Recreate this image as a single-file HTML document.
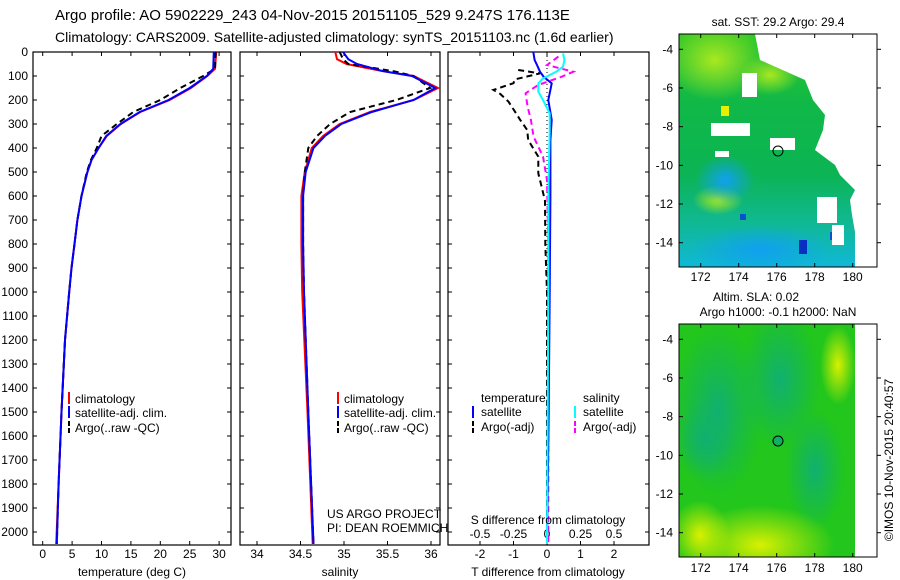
<!DOCTYPE html>
<html><head><meta charset="utf-8"><style>
html,body{margin:0;padding:0;background:#fff;}
svg{display:block;font-family:"Liberation Sans",sans-serif;}
text{fill:#000;}
</style></head><body>
<svg id="fig" width="900" height="580" viewBox="0 0 900 580" xmlns="http://www.w3.org/2000/svg">
<defs>
<clipPath id="c1"><rect x="33" y="52" width="198" height="493"/></clipPath>
<clipPath id="c2"><rect x="240" y="52" width="200" height="493"/></clipPath>
<clipPath id="c3"><rect x="448" y="52" width="201" height="493"/></clipPath>
<clipPath id="m1"><rect x="679" y="34" width="198" height="233"/></clipPath>
<clipPath id="m2"><rect x="679" y="324" width="176" height="233"/></clipPath>
<linearGradient id="g1" x1="0" y1="0" x2="0" y2="1">
<stop offset="0" stop-color="#30c828"/><stop offset="0.3" stop-color="#10b848"/><stop offset="0.6" stop-color="#0cb454"/><stop offset="0.8" stop-color="#10b890"/><stop offset="1" stop-color="#10b8d8"/></linearGradient>
<radialGradient id="yg1" cx="0.5" cy="0.5" r="0.5"><stop offset="0" stop-color="#a8e820"/><stop offset="1" stop-color="#a8e820" stop-opacity="0"/></radialGradient>
<radialGradient id="bl1" cx="0.5" cy="0.5" r="0.5"><stop offset="0" stop-color="#10a0f0"/><stop offset="1" stop-color="#10a0f0" stop-opacity="0"/></radialGradient>
<radialGradient id="tl2" cx="0.5" cy="0.5" r="0.5"><stop offset="0" stop-color="#10b070"/><stop offset="1" stop-color="#10b070" stop-opacity="0"/></radialGradient>
<radialGradient id="yl2" cx="0.5" cy="0.5" r="0.5"><stop offset="0" stop-color="#d8f000"/><stop offset="1" stop-color="#d8f000" stop-opacity="0"/></radialGradient>
</defs>

<text x="55" y="20" font-size="15">Argo profile: AO 5902229_243 04-Nov-2015 20151105_529 9.247S 176.113E</text>
<text x="55" y="42" font-size="14">Climatology: CARS2009. Satellite-adjusted climatology: synTS_20151103.nc (1.6d earlier)</text>

<g id="axes"></g>
<g id="series"></g>

<g font-size="12">
<line x1="69" y1="392" x2="69" y2="404" stroke="#f00" stroke-width="2"/><text x="75" y="403">climatology</text>
<line x1="69" y1="406" x2="69" y2="418" stroke="#00f" stroke-width="2"/><text x="75" y="417">satellite-adj. clim.</text>
<line x1="69" y1="421" x2="69" y2="433" stroke="#000" stroke-width="2" stroke-dasharray="5,2"/><text x="75" y="432">Argo(..raw -QC)</text>
</g>
<g font-size="12">
<line x1="338" y1="392" x2="338" y2="404" stroke="#f00" stroke-width="2"/><text x="344" y="403">climatology</text>
<line x1="338" y1="406" x2="338" y2="418" stroke="#00f" stroke-width="2"/><text x="344" y="417">satellite-adj. clim.</text>
<line x1="338" y1="421" x2="338" y2="433" stroke="#000" stroke-width="2" stroke-dasharray="5,2"/><text x="344" y="432">Argo(..raw -QC)</text>
</g>
<g font-size="12">
<text x="481" y="402">temperature</text><text x="583" y="402">salinity</text>
<line x1="473" y1="406" x2="473" y2="418" stroke="#00f" stroke-width="2"/><text x="481" y="416">satellite</text>
<line x1="575" y1="406" x2="575" y2="418" stroke="#0ff" stroke-width="2"/><text x="583" y="416">satellite</text>
<line x1="473" y1="421" x2="473" y2="433" stroke="#000" stroke-width="2" stroke-dasharray="5,2"/><text x="481" y="431">Argo(-adj)</text>
<line x1="575" y1="421" x2="575" y2="433" stroke="#f0f" stroke-width="2" stroke-dasharray="5,2"/><text x="583" y="431">Argo(-adj)</text>
</g>
<text x="327" y="518" font-size="12">US ARGO PROJECT</text>
<text x="327" y="532" font-size="12">PI: DEAN ROEMMICH</text>
<text x="548" y="524" font-size="12" text-anchor="middle">S difference from climatology</text>

<g>
<text x="778" y="26" font-size="12" text-anchor="middle">sat. SST: 29.2 Argo: 29.4</text>
<g clip-path="url(#m1)">
<rect x="679" y="34" width="198" height="233" fill="url(#g1)"/>
<ellipse cx="715" cy="60" rx="50" ry="40" fill="url(#yg1)"/>
<ellipse cx="770" cy="75" rx="30" ry="20" fill="url(#yg1)"/>
<ellipse cx="718" cy="200" rx="25" ry="15" fill="url(#yg1)"/>
<ellipse cx="725" cy="180" rx="30" ry="25" fill="url(#bl1)"/>
<ellipse cx="760" cy="250" rx="70" ry="25" fill="url(#bl1)"/>
<rect x="799" y="240" width="8" height="14" fill="#0830c0"/>
<rect x="830" y="232" width="10" height="8" fill="#0850d0"/>
<rect x="740" y="214" width="6" height="6" fill="#0850d0"/>
</g>
<polygon fill="#fff" points="755,34 877,34 877,267 855,267 855,232 852,215 850,200 855,190 840,175 835,165 815,150 823,130 825,115 813,100 805,80 760,60"/>
<rect x="711" y="123" width="39" height="13" fill="#fff"/>
<rect x="742" y="73" width="15" height="24" fill="#fff"/>
<rect x="770" y="138" width="25" height="12" fill="#fff"/>
<rect x="715" y="151" width="14" height="6" fill="#fff"/>
<rect x="817" y="197" width="20" height="26" fill="#fff"/>
<rect x="832" y="225" width="12" height="20" fill="#fff"/>
<rect x="721" y="106" width="8" height="10" fill="#e8f000"/>
<circle cx="778" cy="151" r="5" fill="none" stroke="#000" stroke-width="1"/>
<rect x="679" y="34" width="198" height="233" fill="none" stroke="#000" stroke-width="1"/>
<g id="map1ticks"></g>
</g>

<g>
<text x="756" y="301" font-size="12" text-anchor="middle">Altim. SLA: 0.02</text>
<text x="778" y="316" font-size="12" text-anchor="middle">Argo h1000: -0.1 h2000: NaN</text>
<g clip-path="url(#m2)">
<rect x="679" y="324" width="176" height="233" fill="#22c61c"/>
<ellipse cx="718" cy="410" rx="45" ry="85" fill="url(#tl2)"/>
<ellipse cx="705" cy="440" rx="30" ry="40" fill="url(#tl2)"/>
<ellipse cx="780" cy="380" rx="40" ry="70" fill="url(#tl2)"/>
<ellipse cx="815" cy="470" rx="30" ry="60" fill="url(#tl2)"/>
<ellipse cx="760" cy="545" rx="75" ry="40" fill="url(#yl2)"/>
<ellipse cx="700" cy="535" rx="30" ry="35" fill="url(#yl2)"/>
<ellipse cx="838" cy="365" rx="18" ry="40" fill="url(#yl2)"/>
</g>
<circle cx="778" cy="441" r="5" fill="#10b060" stroke="#000" stroke-width="1"/>
<rect x="679" y="324" width="198" height="233" fill="none" stroke="#000" stroke-width="1"/>
<g id="map2ticks"></g>
</g>
<text transform="translate(893,460) rotate(-90)" font-size="12" text-anchor="middle">©IMOS 10-Nov-2015 20:40:57</text>
</svg>
<script>
const tDepth = [0,70,100,150,200,250,300,350,400,450,500,600,700,800,900,1000,1200,1500,1800,2050];
const tClim  = [29.5,29.3,28.0,25.2,21.6,16.6,13.3,10.9,9.5,8.3,7.6,6.6,5.9,5.4,4.9,4.5,3.8,3.2,2.7,2.3];
const tSat   = [29.1,29.0,27.9,25.0,21.4,16.5,13.2,10.8,9.5,8.3,7.6,6.6,5.9,5.4,4.9,4.5,3.8,3.2,2.7,2.4];
const tArgo  = [29.4,29.3,27.3,23.4,20.0,15.4,12.6,10.0,9.2,8.2,7.5,6.6,5.9,5.4,4.9,4.5,3.8,3.2,2.7,2.4];
const sDepth = [0,30,50,80,100,150,200,250,300,350,400,500,600,800,1000,1500,2050];
const sClim  = [34.90,34.92,35.03,35.45,35.80,36.08,35.80,35.30,34.95,34.76,34.63,34.55,34.51,34.51,34.52,34.58,34.64];
const sSat   = [34.99,35.05,35.15,35.45,35.78,36.05,35.80,35.32,34.97,34.78,34.65,34.56,34.53,34.53,34.54,34.59,34.65];
const sArgo  = [34.95,34.99,35.05,35.57,35.80,35.99,35.60,35.07,34.84,34.69,34.59,34.55,34.53,34.53,34.54,34.59,34.65];
const dTArgoDepth = [75,89,114,130,158,174,207,228,283,325,367,436,505,561,620,800,1000,1500,2050];
const dTArgo = [-0.86,-0.21,-0.96,-1.0,-1.6,-1.4,-1.15,-1.05,-0.8,-0.59,-0.56,-0.26,-0.26,-0.16,-0.06,-0.05,0,0,0];
const dTSatDepth = [0,33,54,82,103,131,158,200,283,367,600,1000,1500,2050];
const dTSat = [-0.41,-0.37,-0.3,-0.21,-0.1,0.14,0.1,0.04,0.14,0.1,0.1,0.08,0.05,0];
const dSArgoDepth = [19,54,82,103,137,172,228,283,353,436,533,800,1200,2050];
const dSArgo = [0.085,0,0.196,0.11,-0.065,-0.16,-0.145,-0.12,-0.1,-0.03,0,0.01,0.01,0.01];
const dSSatDepth = [6,33,61,82,110,131,165,200,256,325,600,1000,2050];
const dSSat = [0.12,0.13,0.12,0.07,-0.03,-0.065,-0.065,-0.03,0.02,0.02,0.01,0.01,0];
const depthTicks = [0,100,200,300,400,500,600,700,800,900,1000,1100,1200,1300,1400,1500,1600,1700,1800,1900,2000];
const tTicks = [0,5,10,15,20,25,30];
const sTicks = [34,34.5,35,35.5,36];
const sTickLabels = ['34','34.5','35','35.5','36'];
const dTTicks = [-2,-1,0,1,2];
const dSTicks = [-0.5,-0.25,0,0.25,0.5];
const dSTickLabels = ['-0.5','-0.25','0','0.25','0.5'];
const lonTicks = [172,174,176,178,180];
const latTicks = [-4,-6,-8,-10,-12,-14];

const yD = d => 52 + 0.24*d;
const xT = t => 42.7 + 5.88*t;
const xS = s => 257 + 87*(s-34);
const xDT = v => 547 + 33.5*v;
const xDS = v => 547 + 134*v;
const lonX = l => 700.7 + 19*(l-172);
const latY1 = l => 49.3 - 19.34*(l+4);
const latY2 = l => 339.3 - 19.34*(l+4);

const NS = 'http://www.w3.org/2000/svg';
const axes = document.getElementById('axes');
const series = document.getElementById('series');
function mk(tag, attrs, parent){
  const e = document.createElementNS(NS, tag);
  for (const k in attrs) e.setAttribute(k, attrs[k]);
  parent.appendChild(e); return e;
}
function txt(x,y,s,anchor,parent,size){
  const t = mk('text',{x:x,y:y,'font-size':size||12,'text-anchor':anchor||'middle'},parent);
  t.textContent = s; return t;
}
const panels = [[33,231,'c1'],[240,440,'c2'],[448,649,'c3']];
panels.forEach((p,i)=>{
  const r = mk('rect',{x:p[0],y:52,width:p[1]-p[0],height:493,fill:'none',stroke:'#000','stroke-width':1.2},axes);
  
  
  depthTicks.forEach(d=>{
    mk('line',{x1:p[0],x2:p[0]+4,y1:yD(d),y2:yD(d),stroke:'#000'},axes);
    mk('line',{x1:p[1]-4,x2:p[1],y1:yD(d),y2:yD(d),stroke:'#000'},axes);
  });
});
depthTicks.forEach(d=>{
  const t = txt(28,yD(d)+4,String(d),'end',axes);
  
  
});
function xticks(vals,labels,fx,ly){
  vals.forEach((v,i)=>{
    const x = fx(v);
    mk('line',{x1:x,x2:x,y1:52,y2:56,stroke:'#000'},axes);
    mk('line',{x1:x,x2:x,y1:541,y2:545,stroke:'#000'},axes);
    const t = txt(x,ly,labels[i],'middle',axes);
    
    
  });
}
xticks(tTicks,tTicks.map(String),xT,558);
xticks(sTicks,sTickLabels,xS,558);
xticks(dTTicks,dTTicks.map(String),xDT,558);
dSTicks.forEach((v,i)=>{
  const x = xDS(v);
  mk('line',{x1:x,x2:x,y1:541,y2:545,stroke:'#000'},axes);
  const t = txt(x,538,dSTickLabels[i],'middle',axes);
  
  
});
[['temperature (deg C)',132],['salinity',340],['T difference from climatology',548]].forEach(a=>{
  const t = txt(a[1],576,a[0],'middle',axes);
  
  
});
mk('line',{x1:547,x2:547,y1:52,y2:545,stroke:'#000','stroke-dasharray':'1,3'},axes);

function line(depths, vals, fx, color, dash, clip, name){
  let d = '';
  depths.forEach((dp,i)=>{ d += (i?'L':'M') + fx(vals[i]).toFixed(1) + ',' + yD(dp).toFixed(1); });
  const p = mk('path',{d:d,fill:'none',stroke:color,'stroke-width':2,'clip-path':'url(#'+clip+')'},series);
  if (dash) p.setAttribute('stroke-dasharray', dash);
  
  
}
line(tDepth,tClim,xT,'#f00',null,'c1','temp-climatology-line');
line(tDepth,tArgo,xT,'#000','6,4','c1','temp-argo-line');
line(tDepth,tSat,xT,'#00f',null,'c1','temp-satellite-line');
line(sDepth,sClim,xS,'#f00',null,'c2','sal-climatology-line');
line(sDepth,sArgo,xS,'#000','6,4','c2','sal-argo-line');
line(sDepth,sSat,xS,'#00f',null,'c2','sal-satellite-line');
line(dTArgoDepth,dTArgo,xDT,'#000','6,4','c3','tdiff-argo-line');
line(dSArgoDepth,dSArgo,xDS,'#f0f','6,4','c3','sdiff-argo-line');
line(dTSatDepth,dTSat,xDT,'#00f',null,'c3','tdiff-satellite-line');
line(dSSatDepth,dSSat,xDS,'#0ff',null,'c3','sdiff-satellite-line');

function mapTicks(gid, latY, top, bottom, labY){
  const g = document.getElementById(gid);
  lonTicks.forEach(l=>{
    const x = lonX(l);
    mk('line',{x1:x,x2:x,y1:top,y2:top+4,stroke:'#000'},g);
    mk('line',{x1:x,x2:x,y1:bottom-4,y2:bottom,stroke:'#000'},g);
    const t = txt(x,labY,String(l),'middle',g);
    
    
  });
  latTicks.forEach(l=>{
    const y = latY(l);
    mk('line',{x1:679,x2:683,y1:y,y2:y,stroke:'#000'},g);
    mk('line',{x1:877,x2:881,y1:y,y2:y,stroke:'#000'},g);
    const t = txt(673,y+4,String(l),'end',g);
    
    
  });
}
mapTicks('map1ticks',latY1,34,267,281);
mapTicks('map2ticks',latY2,324,557,572);
</script>
</body></html>
